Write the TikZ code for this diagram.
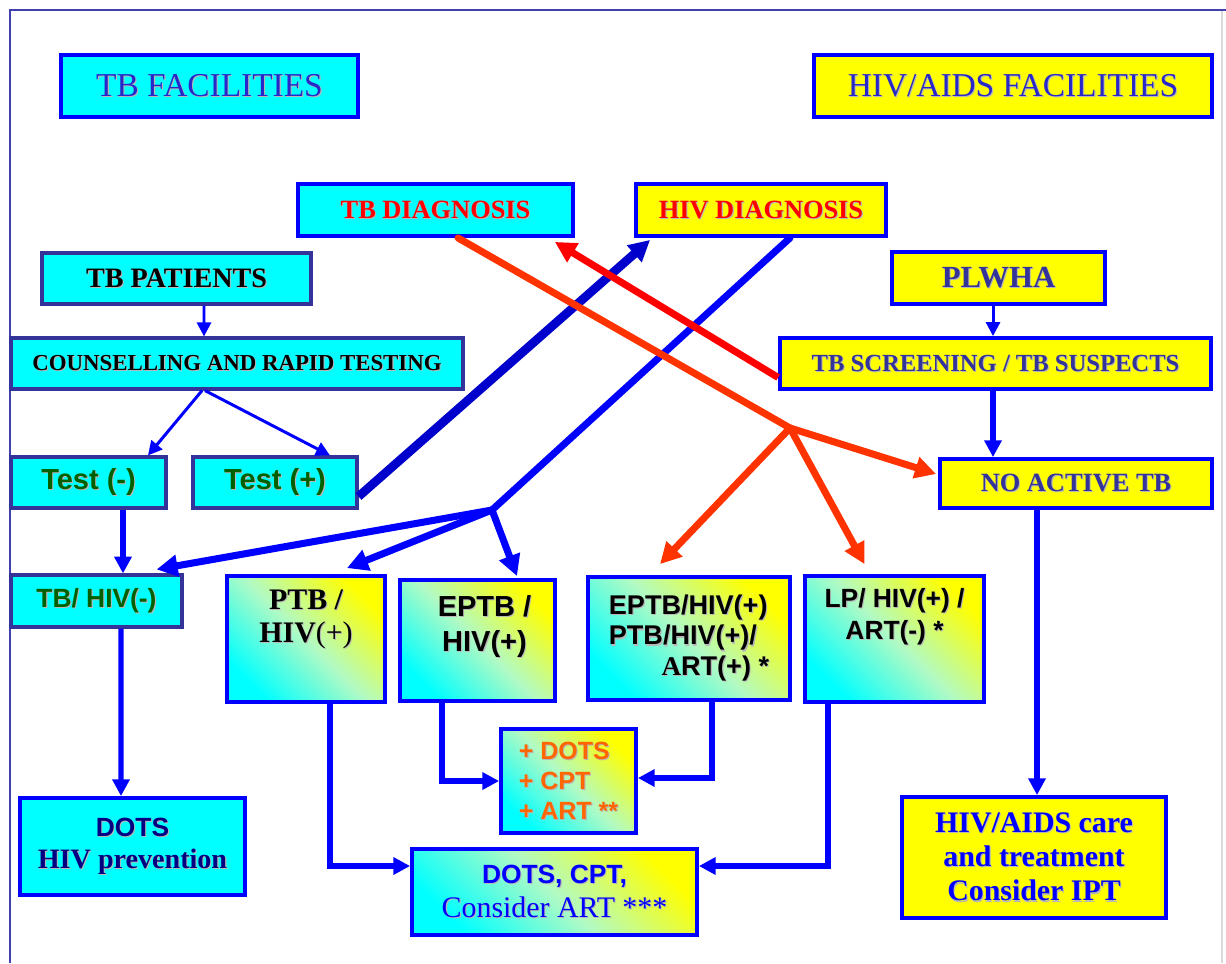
\documentclass[tikz,border=0pt]{standalone}
\usepackage{fontspec}
\setmainfont{Liberation Serif}
\setsansfont{Liberation Sans}
\usetikzlibrary{arrows.meta,calc}

\definecolor{boxcyan}{RGB}{0,255,255}
\definecolor{boxyellow}{RGB}{255,255,0}
\definecolor{boxmint}{RGB}{178,250,195}
\definecolor{boxblue}{RGB}{0,0,255}
\definecolor{slate}{RGB}{51,51,153}
\definecolor{frameblue}{RGB}{64,64,176}
\definecolor{facblue}{RGB}{40,40,200}
\definecolor{diagred}{RGB}{255,0,0}
\definecolor{tbred}{RGB}{255,51,0}
\definecolor{okgreen}{RGB}{0,96,0}
\definecolor{dotsnavy}{RGB}{0,0,128}
\definecolor{dotsorange}{RGB}{255,102,0}
\definecolor{darkarrow}{RGB}{0,0,204}

% grey drop shadow behind a line of text
\newcommand{\shad}[1]{\leavevmode\rlap{\hspace{0.6pt}\raisebox{-0.6pt}{\textcolor{black!28}{#1}}}#1}

\tikzset{
  cyanbox/.style={draw=boxblue, fill=boxcyan, line width=2.2pt, inner sep=0pt},
  yellowbox/.style={draw=boxblue, fill=boxyellow, line width=2.2pt, inner sep=0pt},
  slatebox/.style={draw=slate, fill=boxcyan, line width=1.8pt, inner sep=0pt},
  gradbox/.style={draw=boxblue, line width=2.2pt, inner sep=0pt,
    top color=boxyellow, bottom color=boxcyan, middle color=boxmint, shading angle=-45},
  thinline/.style={boxblue, line width=1.7pt, -{Triangle[length=8pt,width=8pt]}},
  midline/.style={boxblue, line width=3.1pt, -{Triangle[length=9.5pt,width=9.5pt]}},
  thickline/.style={line width=4pt, -{Triangle[length=12pt,width=12pt]}},
}

\begin{document}
\begin{tikzpicture}[x=0.02cm, y=-0.02cm]
\useasboundingbox (0,0) rectangle (1226,963);

% frame
\draw[frameblue, line width=1pt] (10,963) -- (10,10) -- (1226,10);
\draw[black!15, line width=0.6pt] (1222,11) -- (1222,963);

% titles
\node[cyanbox, minimum width=5.94cm, minimum height=1.24cm, text=facblue, font={\fontsize{19}{22}\selectfont}] (tbfac) at (209.5,86) {\shad{TB FACILITIES}};
\node[yellowbox, minimum width=7.96cm, minimum height=1.24cm, text=facblue, font={\fontsize{19}{22}\selectfont}] (hivfac) at (1013,86) {\shad{HIV/AIDS FACILITIES}};

% diagnosis
\node[cyanbox, minimum width=5.5cm, minimum height=1.04cm, text=diagred, font={\bfseries\fontsize{15}{18}\selectfont}] (tbdiag) at (435.5,210) {\shad{TB DIAGNOSIS}};
\node[yellowbox, minimum width=5cm, minimum height=1.04cm, text=diagred, font={\bfseries\fontsize{15}{18}\selectfont}] (hivdiag) at (761,210) {\shad{HIV DIAGNOSIS}};

% TB side
\node[slatebox, minimum width=5.38cm, minimum height=1.02cm, font={\bfseries\fontsize{16}{19}\selectfont}] (tbpat) at (176.5,278.5) {\shad{TB PATIENTS}};
\node[slatebox, minimum width=9.04cm, minimum height=1.02cm, font={\bfseries\fontsize{13}{16}\selectfont}] (couns) at (237,363.5) {\shad{COUNSELLING AND RAPID TESTING}};
\node[slatebox, minimum width=3.1cm, minimum height=1.02cm, text=okgreen, font={\sffamily\bfseries\fontsize{16.5}{19}\selectfont}] (testneg) at (88.5,482.5) {\shad{Test (-)}};
\node[slatebox, minimum width=3.28cm, minimum height=1.02cm, text=okgreen, font={\sffamily\bfseries\fontsize{16.5}{19}\selectfont}] (testpos) at (275,482.5) {\shad{Test (+)}};
\node[slatebox, minimum width=3.42cm, minimum height=1.04cm, text=okgreen, font={\sffamily\bfseries\fontsize{15}{18}\selectfont}] (tbhivneg) at (96.5,601) {\shad{TB/ HIV(-)}};
\node[cyanbox, minimum width=4.5cm, minimum height=1.94cm, text=dotsnavy, align=center, font={\fontsize{16}{18}\selectfont}] (dotsprev) at (132.5,846.5)
  {\shad{\sffamily\bfseries\fontsize{15}{18}\selectfont DOTS}\\\shad{\bfseries HIV prevention}};

% co-infected
\node[gradbox, minimum width=3.16cm, minimum height=2.52cm] (ptb) at (306,639) {};
\node[anchor=north, inner sep=0pt, align=center, font={\bfseries\fontsize{17}{19}\selectfont}] (ptbtext) at ($(ptb.north)+(0,15)$) {\shad{PTB /}\\\shad{HIV{\mdseries(+)}}};
\node[gradbox, minimum width=3.1cm, minimum height=2.42cm] (eptb) at (477.5,640.5) {};
\node[anchor=north, inner sep=0pt, align=center, font={\sffamily\bfseries\fontsize{16.5}{20}\selectfont}] (eptbtext) at ($(eptb.north)+(7,17)$) {\shad{EPTB /}\\\shad{HIV(+)}};
\node[gradbox, minimum width=4.04cm, minimum height=2.46cm, align=left, font={\sffamily\bfseries\fontsize{15.4}{17.6}\selectfont}] (eptbart) at (689,638.5)
  {\shad{EPTB/HIV(+)}\\\shad{PTB/HIV(+)/}\\\hspace*{30pt}\shad{{\rmfamily A}RT(+) *}};
\node[gradbox, minimum width=3.58cm, minimum height=2.52cm] (lpart) at (894.5,639) {};
\node[anchor=north, inner sep=0pt, align=center, font={\sffamily\bfseries\fontsize{15}{18}\selectfont}] (lptext) at ($(lpart.north)+(0,14)$) {\shad{LP/ HIV(+) /}\\\shad{ART(-) *}};
\node[gradbox, minimum width=2.7cm, minimum height=2.08cm, align=left, text=dotsorange, font={\sffamily\bfseries\fontsize{14.2}{17}\selectfont}] (dotsplus) at (568.5,781)
  {\shad{+ DOTS}\\\shad{+ CPT}\\\shad{+ ART **}};
\node[gradbox, minimum width=5.7cm, minimum height=1.72cm, align=center, text=boxblue, font={\fontsize{17}{19}\selectfont}] (dotscpt) at (554.5,892)
  {\shad{\sffamily\bfseries\fontsize{15}{19}\selectfont DOTS, CPT,}\\\shad{Consider ART ***}};

% HIV side
\node[yellowbox, minimum width=4.26cm, minimum height=1.04cm, text=slate, font={\bfseries\fontsize{17.5}{20}\selectfont}] (plwha) at (998.5,278) {\shad{PLWHA}};
\node[yellowbox, minimum width=8.62cm, minimum height=1.02cm, text=slate, font={\bfseries\fontsize{14}{17}\selectfont}] (tbscreen) at (995.5,363.5) {\shad{TB SCREENING / TB SUSPECTS}};
\node[yellowbox, minimum width=5.44cm, minimum height=0.98cm, text=slate, font={\bfseries\fontsize{15}{18}\selectfont}] (noactive) at (1076,483.5) {\shad{NO ACTIVE TB}};
\node[yellowbox, minimum width=5.28cm, minimum height=2.42cm, align=center, text=boxblue, font={\bfseries\fontsize{17}{19.5}\selectfont}] (hivcare) at (1034,857.5)
  {\shad{HIV/AIDS care}\\\shad{and treatment}\\\shad{Consider IPT}};

% left column
\draw[thinline] ($(tbpat.south)+(27.5,0)$) -- ($(couns.north)+(-33,0)$);
\draw[thinline] ($(couns.south)+(-35,0)$) -- ($(testneg.north)+(59.5,0)$);
\draw[thinline] ($(couns.south)+(-32,0)$) -- ($(testpos.north)+(55,0)$);
\draw[midline] ($(testneg.south)+(34.5,0)$) -- ($(tbhivneg.north)+(26.5,0)$);
\draw[midline] ($(tbhivneg.south)+(24.5,0)$) -- ($(dotsprev.north)+(-11.5,0)$);

\draw[thickline, darkarrow, line width=5pt] ($(testpos.east)+(0,14)$) -- ($(hivdiag.south west)+(16,2)$);

% from HIV diagnosis
\coordinate (hivsplit) at (492,510);
\draw[boxblue, line width=4pt, line cap=round] ($(hivdiag.south)+(29,0)$) -- (hivsplit);
\draw[thickline, boxblue] (hivsplit) -- ($(tbhivneg.north east)+(-27,-4)$);
\draw[thickline, boxblue] (hivsplit) -- ($(ptb.north)+(41,-6)$);
\draw[thickline, boxblue] (hivsplit) -- ($(eptb.north)+(39.5,-2)$);

% from TB diagnosis
\coordinate (tbsplit) at (790,428);
\draw[tbred, line width=4pt, line cap=round] ($(tbdiag.south)+(22.5,0)$) -- (tbsplit);
\draw[thickline, tbred] (tbsplit) -- ($(noactive.west)+(-2,-9.5)$);
\draw[thickline, tbred] (tbsplit) -- ($(eptbart.north)+(-29,-11)$);
\draw[thickline, tbred] (tbsplit) -- ($(lpart.north)+(-30,-10)$);

\draw[thickline, diagred] ($(tbscreen.west)+(0,14)$) -- ($(tbdiag.south east)+(-20,4)$);

% right column
\draw[thinline] ($(plwha.south)+(-5.5,0)$) -- ($(tbscreen.north)+(-2.5,0)$);
\draw[midline] ($(tbscreen.south)+(-2.5,0)$) -- ($(noactive.north)+(-83,0)$);
\draw[midline] ($(noactive.south)+(-39,0)$) -- ($(hivcare.north)+(3,0)$);

% to treatment
\draw[midline] ($(ptb.south)+(24,0)$) |- ($(dotscpt.west)+(0,-26)$);
\draw[midline] ($(eptb.south)+(-35.5,0)$) |- (dotsplus.west);
\draw[midline] ($(eptbart.south)+(23,0)$) |- ($(dotsplus.east)+(0,-3)$);
\draw[midline] ($(lpart.south)+(-66.5,0)$) |- ($(dotscpt.east)+(0,-26)$);
\end{tikzpicture}
\end{document}
